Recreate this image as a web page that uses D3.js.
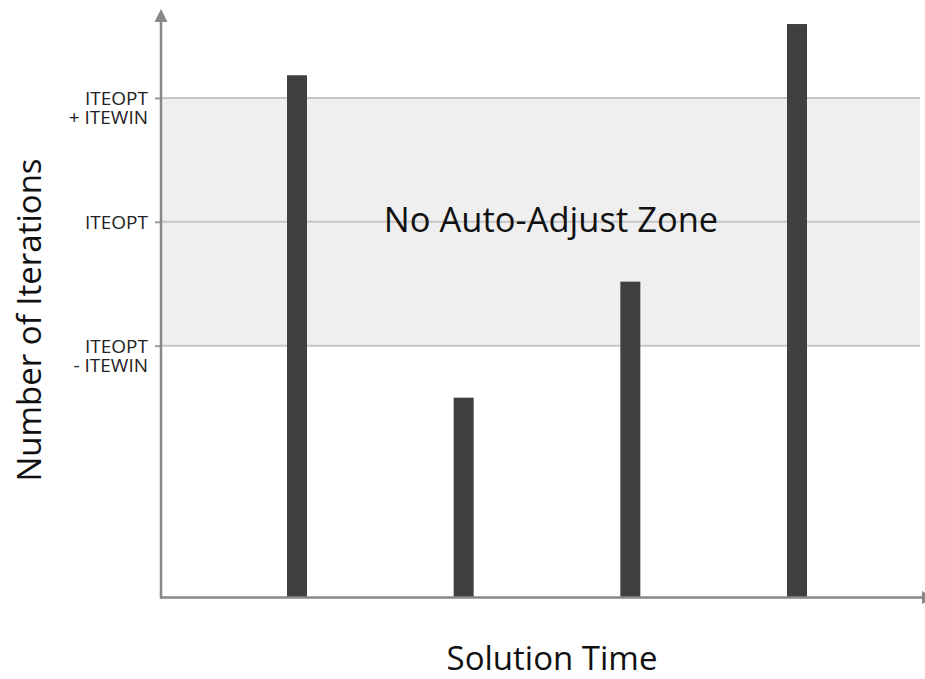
<!DOCTYPE html>
<html><head><meta charset="utf-8">
<script src="https://cdn.jsdelivr.net/npm/d3@7"></script>
<style>body{margin:0;background:#fff}svg{display:block}text{font-family:"Open Sans",sans-serif}</style>
</head><body><svg id="c" width="925" height="679"></svg>
<script>
// data
const times = [1, 2, 3, 4];
const iterations = [126.5, 48.4, 76.5, 138.9];
const ITEOPT = 91, ITEWIN = 30;
const tickValues = [ITEOPT + ITEWIN, ITEOPT, ITEOPT - ITEWIN];
const tickLabels = [["ITEOPT", "+ ITEWIN"], ["ITEOPT"], ["ITEOPT", "- ITEWIN"]];
const zoneLabel = "No Auto-Adjust Zone";
const xTitle = "Solution Time", yTitle = "Number of Iterations";

const svg = d3.select("#c");
const x0 = 161, x1 = 922, yBase = 597.5;
const x = d3.scaleLinear().domain([0.184, 4.75]).range([x0, x1]);
const y = d3.scaleLinear().domain([0, 142.3]).range([yBase, 10]);

// zone band
svg.append("rect").attr("x", x0).attr("y", y(ITEOPT + ITEWIN))
  .attr("width", 920 - x0).attr("height", y(ITEOPT - ITEWIN) - y(ITEOPT + ITEWIN))
  .attr("fill", "#efefef");

// gridlines + ticks
const yAxis = d3.axisLeft(y).tickValues(tickValues).tickSize(6).tickFormat("");
const ga = svg.append("g").attr("transform", `translate(${x0},0)`).call(yAxis);
ga.select(".domain").remove();
ga.selectAll(".tick line").attr("stroke", "#999").attr("stroke-width", 2);
svg.selectAll(".grid").data(tickValues).enter().append("line")
  .attr("x1", x0).attr("x2", 920).attr("y1", d => y(d)).attr("y2", d => y(d))
  .attr("stroke", "#c6c6c6").attr("stroke-width", 2);

// tick labels
tickValues.forEach((v, i) => {
  const t = svg.append("text").attr("x", 148).attr("y", y(v) + 7.5)
    .attr("text-anchor", "end").attr("font-size", 19).attr("fill", "#222");
  tickLabels[i].forEach((s, j) => t.append("tspan").attr("x", 148).attr("dy", j ? 19 : 0).text(s));
});

// zone label
svg.append("text").attr("x", 551).attr("y", 232).attr("text-anchor", "middle")
  .attr("font-size", 34.5).attr("fill", "#111").text(zoneLabel);

// bars
svg.selectAll(".bar").data(times).enter().append("rect")
  .attr("x", d => x(d) - 10).attr("width", 20)
  .attr("y", (d, i) => y(iterations[i])).attr("height", (d, i) => yBase - y(iterations[i]))
  .attr("fill", "#404040");

// axes with arrows
svg.append("line").attr("x1", x0).attr("x2", x0).attr("y1", yBase + 1).attr("y2", 20)
  .attr("stroke", "#888").attr("stroke-width", 2.5);
svg.append("path").attr("d", `M${x0},9 L${x0 + 6.5},22 L${x0 - 6.5},22 Z`).attr("fill", "#888");
svg.append("line").attr("x1", x0 - 1).attr("x2", x1).attr("y1", yBase).attr("y2", yBase)
  .attr("stroke", "#888").attr("stroke-width", 2.5);
svg.append("path").attr("d", `M${x1 + 12},${yBase} L${x1},${yBase - 6.5} L${x1},${yBase + 6.5} Z`).attr("fill", "#888");

// titles
svg.append("text").attr("x", 552).attr("y", 670).attr("text-anchor", "middle")
  .attr("font-size", 33).attr("fill", "#111").text(xTitle);
svg.append("text").attr("transform", "translate(41,320) rotate(-90)").attr("text-anchor", "middle")
  .attr("font-size", 33).attr("fill", "#111").text(yTitle);
</script></body></html>
